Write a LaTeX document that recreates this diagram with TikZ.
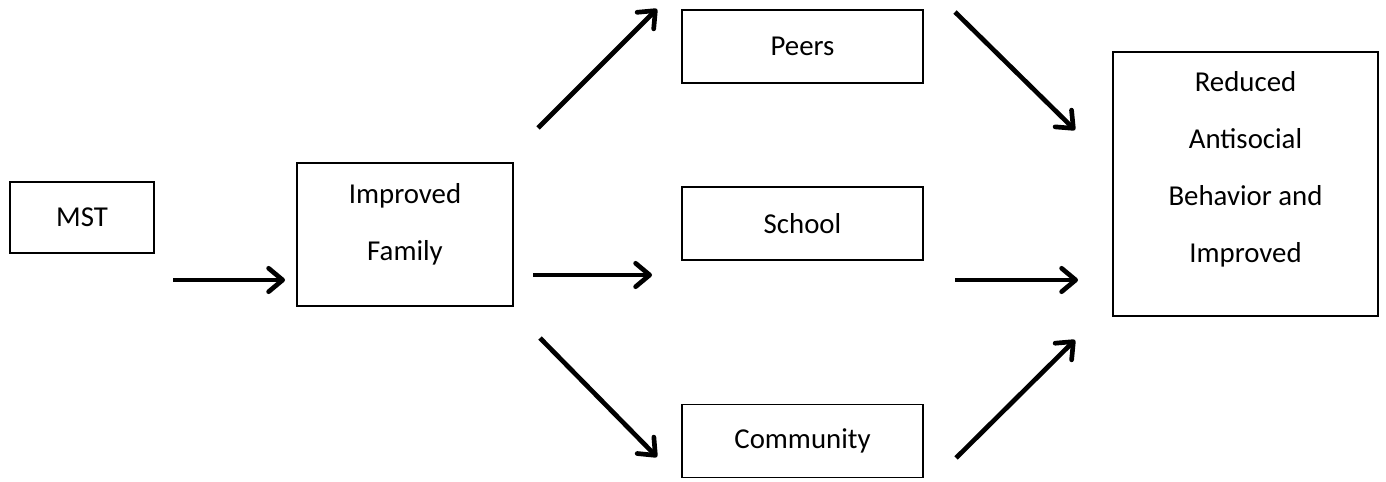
\documentclass[tikz,border=0pt]{standalone}
\usepackage{fontspec}
\setmainfont{Carlito}
\usepackage{tikz}
\usetikzlibrary{arrows.meta,calc,positioning}

\begin{document}
\begin{tikzpicture}[scale=1,
  box/.style={draw,line width=0.6pt,inner sep=0pt,align=center,
    font=\fontsize{12.3}{24.2}\selectfont},
  flow/.style={line width=2pt,-{Straight Barb[length=6pt,width=10pt,round]}}]
  \useasboundingbox (0,0) rectangle (20.79,7.215);
  % Boxes
  \node[box,minimum width=2.16cm,minimum height=1.065cm] (mst) at (1.23,3.9525) {MST};
  \node[box,minimum width=3.24cm,minimum height=2.145cm] (fam) at (6.075,3.6975) {};
  \node[align=center,font=\fontsize{12.3}{24.2}\selectfont] (famtxt) at ($(fam.center)+(0,0.15)$) {Improved\\Family};
  \node[box,minimum width=3.615cm,minimum height=1.095cm] (peers) at (12.0375,6.5175) {Peers};
  \node[box,minimum width=3.615cm,minimum height=1.095cm] (school) at (12.0375,3.8625) {School};
  \node[box,minimum width=3.615cm,minimum height=1.095cm] (comm) at (12.0375,0.6) {Community};
  \node[box,minimum width=3.975cm,minimum height=3.96cm] (out) at (18.6825,4.455) {};
  \node[align=center,font=\fontsize{12.3}{24.2}\selectfont] (outtxt) at ($(out.center)+(0,0.22)$) {Reduced\\Antisocial\\Behavior and\\Improved};
  % Arrow ends
  \coordinate (mstR) at (2.595,3.015);
  \coordinate (famL) at (4.275,3.015);
  \coordinate (famR) at (7.995,3.09);
  \coordinate (schoolL) at (9.78,3.09);
  \coordinate (famNE) at (8.07,5.295);
  \coordinate (peersL) at (9.855,7.08);
  \coordinate (famSE) at (8.1,2.145);
  \coordinate (commL) at (9.855,0.36);
  \coordinate (peersR) at (14.325,7.035);
  \coordinate (outNW) at (16.125,5.265);
  \coordinate (schoolR) at (14.325,3.015);
  \coordinate (outW) at (16.17,3.015);
  \coordinate (commR) at (14.34,0.345);
  \coordinate (outSW) at (16.125,2.115);
  % Arrows
  \draw[flow] (mstR) -- (famL);
  \draw[flow] (famR) -- (schoolL);
  \draw[flow] (famNE) -- (peersL);
  \draw[flow] (famSE) -- (commL);
  \draw[flow] (peersR) -- (outNW);
  \draw[flow] (schoolR) -- (outW);
  \draw[flow] (commR) -- (outSW);
\end{tikzpicture}
\end{document}
